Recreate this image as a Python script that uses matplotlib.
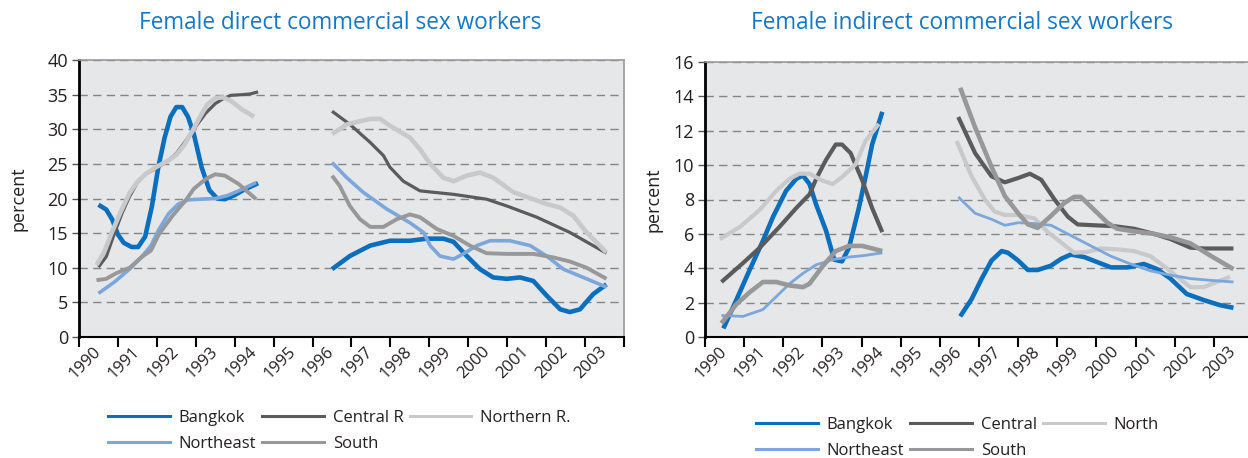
import numpy as np
import matplotlib
matplotlib.use("Agg")
import matplotlib.pyplot as plt
from matplotlib.lines import Line2D

nan = np.nan

# ---------------- data ----------------
years = list(range(1990, 2004))
year_labels = [str(y) for y in years]

titles = ["Female direct commercial sex workers", "Female indirect commercial sex workers"]
legend_direct = ["Bangkok", "Central R", "Northern R.", "Northeast", "South"]
legend_indirect = ["Bangkok", "Central", "North", "Northeast", "South"]

# Female direct CSW (percent)
direct_bangkok_x = [1990.0, 1990.2, 1990.35, 1990.5, 1990.65, 1990.85, 1991.02, 1991.2, 1991.37, 1991.54, 1991.7,
                    1991.85, 1992.0, 1992.15, 1992.3, 1992.45, 1992.65, 1992.85, 1993.05, 1993.25, 1993.5, 1993.75,
                    1994.1, nan, 1996.0, 1996.46, 1996.98, 1997.49, 1998.0, 1998.43, 1998.86, 1999.12, 1999.46,
                    1999.8, 2000.14, 2000.49, 2000.83, 2001.17, 2001.51, 2001.86, 2002.11, 2002.37, 2002.71, 2003.05]
direct_bangkok_y = [19.1, 18.4, 17.0, 14.8, 13.6, 13.0, 13.0, 14.5, 18.8, 24.6, 28.8,
                    31.8, 33.2, 33.2, 31.8, 29.3, 24.5, 21.2, 20.0, 19.9, 20.5, 21.3,
                    22.2, nan, 9.8, 11.7, 13.2, 13.9, 13.9, 14.2, 14.2, 13.75, 11.7,
                    9.8, 8.6, 8.4, 8.6, 8.1, 6.0, 4.0, 3.6, 4.0, 6.2, 7.6]

direct_central_x = [1990.0, 1990.2, 1990.4, 1990.6, 1990.8, 1991.0, 1991.2, 1991.5, 1991.8, 1992.0, 1992.2,
                    1992.45, 1992.75, 1993.0, 1993.2, 1993.4, 1993.7, 1993.9, 1994.1, nan,
                    1996.0, 1996.46, 1996.98, 1997.32, 1997.49, 1997.83, 1998.26, 1999.12, 1999.97, 2000.5,
                    2001.26, 2002.11, 2003.05]
direct_central_y = [10.1, 11.6, 14.8, 17.8, 20.3, 22.3, 23.5, 24.4, 25.5, 26.5, 28.0,
                    30.0, 32.3, 33.7, 34.4, 34.9, 35.0, 35.1, 35.4, nan,
                    32.6, 30.7, 28.1, 26.2, 24.5, 22.5, 21.1, 20.6, 19.9, 18.9,
                    17.3, 15.1, 12.1]

direct_northern_x = [1989.95, 1990.15, 1990.35, 1990.55, 1990.8, 1991.0, 1991.2, 1991.5, 1991.8, 1992.0, 1992.2,
                     1992.4, 1992.6, 1992.8, 1993.0, 1993.2, 1993.4, 1993.7, 1994.0, nan,
                     1996.0, 1996.38, 1996.98, 1997.23, 1997.49, 1998.0, 1998.26, 1998.52, 1998.86, 1999.12,
                     1999.46, 1999.8, 2000.14, 2000.66, 2001.17, 2001.51, 2001.86, 2002.2, 2002.54, 2003.05]
direct_northern_y = [10.4, 12.3, 15.2, 17.8, 20.8, 22.4, 23.5, 24.6, 25.5, 26.3, 27.7,
                     29.6, 31.7, 33.6, 34.5, 34.6, 34.1, 32.8, 31.8, nan,
                     29.3, 30.7, 31.5, 31.5, 30.5, 28.8, 27.1, 25.0, 23.0, 22.5,
                     23.3, 23.75, 23.0, 20.9, 19.9, 19.2, 18.7, 17.5, 15.1, 12.2]

direct_northeast_x = [1990.0, 1990.4, 1990.8, 1991.1, 1991.35, 1991.55, 1991.8, 1992.05, 1992.3, 1992.6, 1993.0,
                      1993.3, 1993.6, 1994.05, nan,
                      1996.0, 1996.38, 1996.8, 1997.4, 1998.0, 1998.35, 1998.52, 1998.77, 1999.12, 1999.37,
                      1999.72, 2000.06, 2000.57, 2001.09, 2001.51, 2001.94, 2002.54, 2003.05]
direct_northeast_y = [6.3, 7.9, 9.8, 11.5, 13.2, 15.5, 17.8, 19.2, 19.8, 19.9, 20.0,
                      20.4, 21.1, 22.3, nan,
                      25.2, 23.0, 20.9, 18.5, 16.5, 15.1, 13.2, 11.7, 11.25, 12.0,
                      13.2, 13.9, 13.9, 13.2, 11.7, 9.8, 8.4, 7.2]

direct_south_x = [1989.95, 1990.2, 1990.45, 1990.8, 1991.1, 1991.35, 1991.55, 1991.9, 1992.25, 1992.45, 1992.75,
                  1993.0, 1993.25, 1993.6, 1994.05, nan,
                  1996.0, 1996.2, 1996.46, 1996.72, 1996.98, 1997.32, 1997.66, 1998.0, 1998.26, 1998.69,
                  1999.12, 1999.54, 1999.97, 2000.48, 2001.17, 2001.68, 2002.11, 2002.54, 2003.05]
direct_south_y = [8.2, 8.4, 9.2, 10.0, 11.5, 12.5, 14.8, 17.5, 19.8, 21.4, 22.8,
                  23.5, 23.3, 22.1, 19.9, nan,
                  23.3, 21.8, 18.9, 17.0, 15.9, 15.9, 17.0, 17.7, 17.3, 15.6,
                  14.6, 13.2, 12.1, 12.0, 12.0, 11.5, 10.9, 10.0, 8.4]

# Female indirect CSW (percent)
indirect_bangkok_x = [1989.97, 1990.3, 1990.64, 1990.98, 1991.24, 1991.57, 1991.83, 1992.0, 1992.17, 1992.34, 1992.59,
                      1992.8, 1993.0, 1993.18, 1993.43, 1993.6, 1993.77, 1994.03, nan,
                      1996.02, 1996.31, 1996.57, 1996.82, 1997.08, 1997.24, 1997.5, 1997.75, 1998.0, 1998.34,
                      1998.6, 1998.85, 1999.19, 1999.53, 1999.87, 2000.29, 2000.71, 2001.05, 2001.39, 2001.81,
                      2002.24, 2002.66, 2003.0]
indirect_bangkok_y = [0.5, 2.15, 3.9, 5.6, 7.0, 8.5, 9.2, 9.4, 8.9, 7.7, 6.2,
                      4.5, 4.4, 5.2, 7.5, 9.3, 11.2, 13.1, nan,
                      1.2, 2.2, 3.4, 4.45, 5.0, 4.9, 4.45, 3.9, 3.9, 4.15,
                      4.55, 4.8, 4.65, 4.35, 4.05, 4.05, 4.25, 3.95, 3.4, 2.5,
                      2.15, 1.85, 1.7]

indirect_central_x = [1989.92, 1990.47, 1990.9, 1991.4, 1991.83, 1992.17, 1992.34, 1992.59, 1992.84, 1993.0, 1993.22,
                      1993.52, 1993.77, 1994.03, nan,
                      1995.97, 1996.4, 1996.82, 1997.16, 1997.5, 1997.8, 1998.09, 1998.43, 1998.77, 1999.02,
                      1999.44, 1999.95, 2000.46, 2000.97, 2001.39, 2001.9, 2002.24, 2003.0]
indirect_central_y = [3.2, 4.3, 5.2, 6.4, 7.5, 8.3, 9.2, 10.3, 11.2, 11.2, 10.7,
                      9.1, 7.5, 6.1, nan,
                      12.8, 10.7, 9.35, 9.0, 9.25, 9.5, 9.15, 8.0, 7.0, 6.55,
                      6.5, 6.45, 6.3, 6.0, 5.7, 5.2, 5.15, 5.15]

indirect_north_x = [1989.88, 1990.39, 1990.9, 1991.32, 1991.66, 1991.91, 1992.17, 1992.5, 1992.76, 1993.0, 1993.35,
                    1993.6, 1993.94, nan,
                    1995.93, 1996.31, 1996.65, 1996.9, 1997.16, 1997.5, 1997.92, 1998.26, 1998.6, 1998.93,
                    1999.27, 1999.61, 2000.03, 2000.46, 2000.88, 2001.3, 2001.56, 2001.9, 2002.24, 2002.57, 2002.91]
indirect_north_y = [5.7, 6.4, 7.4, 8.5, 9.2, 9.5, 9.5, 9.1, 8.9, 9.3, 10.05,
                    11.4, 12.4, nan,
                    11.4, 9.35, 8.0, 7.3, 7.1, 7.1, 6.9, 6.1, 5.5, 4.9,
                    4.95, 5.15, 5.1, 5.0, 4.7, 4.0, 3.5, 2.9, 2.9, 3.2, 3.5]

indirect_northeast_x = [1989.92, 1990.47, 1990.98, 1991.32, 1991.66, 1992.0, 1992.34, 1992.76, 1993.18, 1993.6, 1994.03,
                        nan,
                        1995.97, 1996.4, 1996.82, 1997.16, 1997.5, 1997.92, 1998.34, 1998.85, 1999.36, 1999.87,
                        2000.37, 2000.88, 2001.39, 2001.9, 2002.4, 2003.0]
indirect_northeast_y = [1.25, 1.2, 1.6, 2.35, 3.1, 3.7, 4.2, 4.5, 4.65, 4.75, 4.9,
                        nan,
                        8.15, 7.2, 6.85, 6.5, 6.65, 6.6, 6.5, 5.9, 5.3, 4.7,
                        4.25, 3.85, 3.6, 3.4, 3.3, 3.2]

indirect_south_x = [1989.92, 1990.3, 1990.64, 1990.98, 1991.32, 1991.66, 1992.0, 1992.17, 1992.5, 1992.84, 1993.18,
                    1993.52, 1994.03, nan,
                    1996.02, 1996.4, 1996.82, 1997.16, 1997.5, 1997.75, 1998.0, 1998.34, 1998.68, 1998.93,
                    1999.1, 1999.44, 1999.78, 2000.03, 2000.46, 2000.97, 2001.39, 2001.9, 2002.4, 2003.0]
indirect_south_y = [0.8, 1.9, 2.6, 3.2, 3.2, 3.0, 2.9, 3.1, 4.1, 5.0, 5.3,
                    5.3, 5.0, nan,
                    14.5, 12.2, 9.9, 8.2, 7.2, 6.55, 6.35, 7.05, 7.8, 8.15,
                    8.15, 7.4, 6.65, 6.3, 6.15, 6.0, 5.8, 5.45, 4.75, 3.95]

# ---------------- style ----------------
C_BKK = "#0a6fbd"
C_CEN = "#5b5b5d"
C_NOR = "#c9c9cb"
C_NE = "#7ba7dc"
C_SOU = "#98989a"
BG = "#e6e7e8"
TITLE_C = "#1677c4"
TXT = "#231f20"

FONT = ["Open Sans", "DejaVu Sans"]
plt.rcParams["font.family"] = FONT

fig = plt.figure(figsize=(12.48, 4.58), dpi=100)
W, H = 1248.0, 458.0


def px_axes(x0, y0, x1, y1):
    return fig.add_axes([x0 / W, 1 - y1 / H, (x1 - x0) / W, (y1 - y0) / H])


ax1 = px_axes(79, 60, 624, 337)
ax2 = px_axes(705, 62, 1253, 337)


def style_axes(ax, ymax, ystep, ylabelpad):
    ax.set_facecolor(BG)
    ax.set_xlim(1989.5, 2003.5)
    ax.set_ylim(0, ymax)
    ax.set_yticks(np.arange(0, ymax + 0.01, ystep))
    ax.set_xticks(np.arange(1989.5, 2004, 1.0))
    ax.set_xticklabels([])
    ax.set_xticks(years, minor=True)
    ax.set_xticklabels(year_labels, minor=True, rotation=45, ha="right", va="center",
                       rotation_mode="anchor", fontsize=12, color=TXT)
    ax.tick_params(axis="x", which="major", direction="out", length=7, width=1.5, color="black")
    ax.tick_params(axis="x", which="minor", length=0, pad=9)
    ax.tick_params(axis="y", direction="out", length=5, width=1, color="#555555",
                   labelsize=13, labelcolor=TXT, pad=3)
    ax.yaxis.grid(True, linestyle=(0, (6, 3.8)), color="#858585", linewidth=1.0)
    ax.set_axisbelow(True)
    ax.spines["left"].set_color("black")
    ax.spines["left"].set_linewidth(2)
    ax.spines["bottom"].set_color("black")
    ax.spines["bottom"].set_linewidth(1.5)
    for s in ("top", "right"):
        ax.spines[s].set_color("#9a9a9a")
        ax.spines[s].set_linewidth(1.2)
    ax.set_ylabel("percent", fontsize=13, color=TXT, labelpad=ylabelpad)


style_axes(ax1, 40, 5, 14)
style_axes(ax2, 16, 2, 8)

kw = dict(solid_joinstyle="round", solid_capstyle="butt")
ax1.plot(direct_bangkok_x, direct_bangkok_y, color=C_BKK, lw=3.3, **kw)
ax1.plot(direct_central_x, direct_central_y, color=C_CEN, lw=2.3, **kw)
ax1.plot(direct_northern_x, direct_northern_y, color=C_NOR, lw=3.3, **kw)
ax1.plot(direct_northeast_x, direct_northeast_y, color=C_NE, lw=2.6, **kw)
ax1.plot(direct_south_x, direct_south_y, color=C_SOU, lw=2.8, **kw)

ax2.plot(indirect_bangkok_x, indirect_bangkok_y, color=C_BKK, lw=3.3, **kw)
ax2.plot(indirect_central_x, indirect_central_y, color=C_CEN, lw=3.0, **kw)
ax2.plot(indirect_north_x, indirect_north_y, color=C_NOR, lw=3.0, **kw)
ax2.plot(indirect_northeast_x, indirect_northeast_y, color=C_NE, lw=2.0, **kw)
ax2.plot(indirect_south_x, indirect_south_y, color=C_SOU, lw=3.3, **kw)

fig.text(340 / W, 1 - 23 / H, titles[0], color=TITLE_C, fontsize=16.3, ha="center", va="center")
fig.text(962 / W, 1 - 23 / H, titles[1], color=TITLE_C, fontsize=16.3, ha="center", va="center")

colors = [C_BKK, C_CEN, C_NOR, C_NE, C_SOU]


def make_legend(labels, anchor):
    handles = [Line2D([], [], color=c, lw=2.2) for c in colors]
    order = [0, 3, 1, 4, 2]
    fig.legend([handles[i] for i in order], [labels[i] for i in order], ncol=3,
               loc="upper left", bbox_to_anchor=anchor, frameon=False, fontsize=12,
               handlelength=3.7, handletextpad=0.55, columnspacing=0.35, labelspacing=0.6,
               labelcolor=TXT, borderaxespad=0, borderpad=0)


make_legend(legend_direct, (108 / W, 1 - 410 / H))
make_legend(legend_indirect, (756 / W, 1 - 417 / H))

fig.savefig("out.png", dpi=100)
